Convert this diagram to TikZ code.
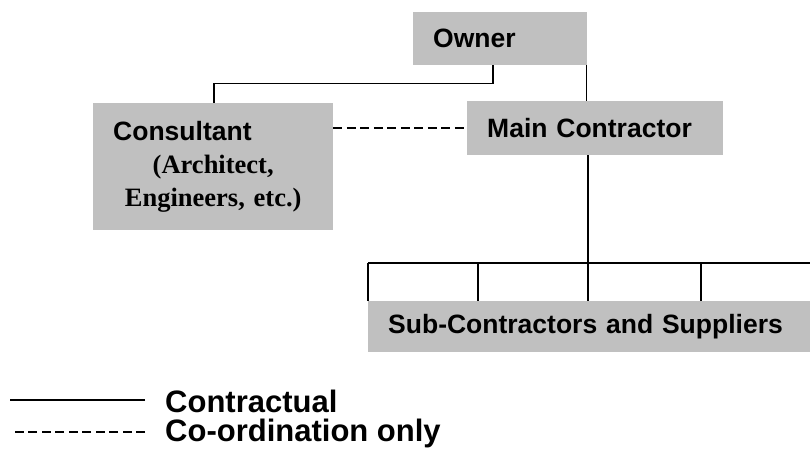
\documentclass[tikz,border=0pt]{standalone}
\usepackage{fontspec}
\setmainfont{Liberation Serif}
\setsansfont{Liberation Sans}
\definecolor{boxgray}{HTML}{C0C0C0}
\tikzset{
  orgbox/.style={fill=boxgray, inner xsep=20pt, inner ysep=0pt, align=left, anchor=north west,
    font=\sffamily\bfseries\fontsize{26.5}{33}\selectfont},
  contract/.style={line width=1.5pt},
  coordonly/.style={line width=1.5pt, dash pattern=on 9pt off 4.5pt},
  legendtext/.style={anchor=base west, inner sep=0pt, font=\sffamily\bfseries\fontsize{31}{37}\selectfont}
}
\begin{document}
\begin{tikzpicture}[x=1pt,y=-1pt]
    \useasboundingbox (0,0) rectangle (810,455);
    \node[orgbox, text width=134pt, minimum height=53pt] (owner) at (413,12) {Owner};
    \node[orgbox, text width=200pt, minimum height=127pt] (consultant) at (93,103)
      {Consultant\\ {\rmfamily\makebox[\linewidth]{(Architect,}}\\ {\rmfamily\makebox[\linewidth]{Engineers, etc.)}}};
    \node[orgbox, text width=216pt, minimum height=54pt] (main) at (467,101) {Main Contractor};
    \node[orgbox, text width=402pt, minimum height=51pt] (sub) at (368,301) {Sub-Contractors and Suppliers};
    \draw[contract] ([xshift=80pt]owner.south west) -- ++(0,18) -| ([xshift=121pt]consultant.north west);
    \draw[contract] ([xshift=-1pt]owner.south east) -- ([xshift=-1pt]owner.south east |- main.north);
    \draw[coordonly] (consultant.east |- main.west) -- (main.west);
    \coordinate (busL) at ([yshift=38pt]sub.north west);
    \coordinate (busR) at ([yshift=38pt]sub.north east);
    \draw[contract] ([xshift=121pt]main.south west) -- ([xshift=121pt]main.south west |- busL);
    \draw[contract] (busL) -- (busR);
    \foreach \dx in {0,110,220,333}
      \draw[contract] ([xshift=\dx pt]busL) -- ([xshift=\dx pt]sub.north west);
    \node[legendtext] (contr) at (165,412) {Contractual};
    \node[legendtext] (coord) at (165,441) {Co-ordination only};
    \draw[contract] ([xshift=-20pt,yshift=12pt]contr.base west) -- ++(-135,0);
    \draw[coordonly] ([xshift=-20pt,yshift=9pt]coord.base west) -- ++(-135,0);
\end{tikzpicture}
\end{document}
